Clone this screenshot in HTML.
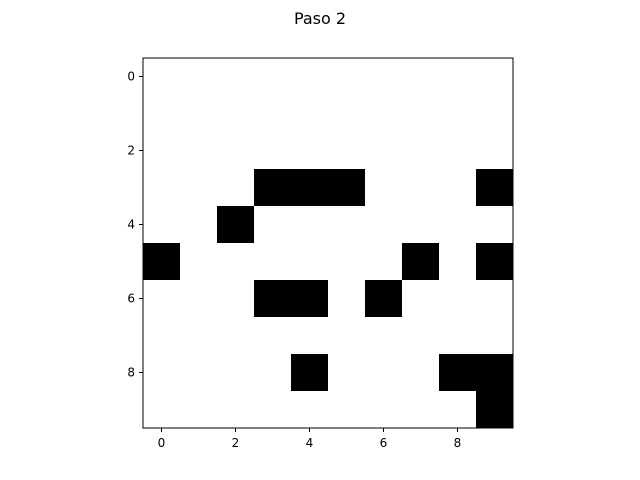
<!DOCTYPE html>
<html><head><meta charset="utf-8"><style>body{margin:0;background:#fff}svg{display:block}text{font-family:"DejaVu Sans","Liberation Sans",sans-serif;fill:#000}</style></head>
<body>
<svg id="c" width="640" height="480">
<text x="320" y="24" font-size="16" text-anchor="middle">Paso 2</text>
</svg>
<script>
const rows=[0,1,2,3,4,5,6,7,8,9];
const cols=[0,1,2,3,4,5,6,7,8,9];
const blackCells=[[3,3],[3,4],[3,5],[3,9],[4,2],[5,0],[5,7],[5,9],[6,3],[6,4],[6,6],[8,4],[8,8],[8,9],[9,9]];
const xTicks=[0,2,4,6,8];
const yTicks=[0,2,4,6,8];
const L=143,T=58,W=370,H=370,cw=W/cols.length,ch=H/rows.length;
const xs=c=>L+c*cw, ys=r=>T+r*ch;
const s=document.getElementById('c'),N='http://www.w3.org/2000/svg';
function mk(t,a){const e=document.createElementNS(N,t);for(const k in a)e.setAttribute(k,a[k]);s.appendChild(e);return e;}
blackCells.forEach(([r,c])=>{const e=mk('rect',{x:xs(c),y:ys(r),width:cw,height:ch,fill:'#000'});

});
const f=mk('rect',{x:L,y:T,width:W,height:H,fill:'none',stroke:'#000','stroke-width':1});


xTicks.forEach(v=>{const x=xs(v+0.5);mk('line',{x1:x,x2:x,y1:T+H,y2:T+H+4,stroke:'#000'});
const t=mk('text',{x:x,y:T+H+19,'font-size':12,'text-anchor':'middle'});t.textContent=v;

});
yTicks.forEach(v=>{const y=ys(v+0.5);mk('line',{x1:L-4,x2:L,y1:y,y2:y,stroke:'#000'});
const t=mk('text',{x:L-8,y:y+4,'font-size':12,'text-anchor':'end'});t.textContent=v;

});
</script>
</body></html>
